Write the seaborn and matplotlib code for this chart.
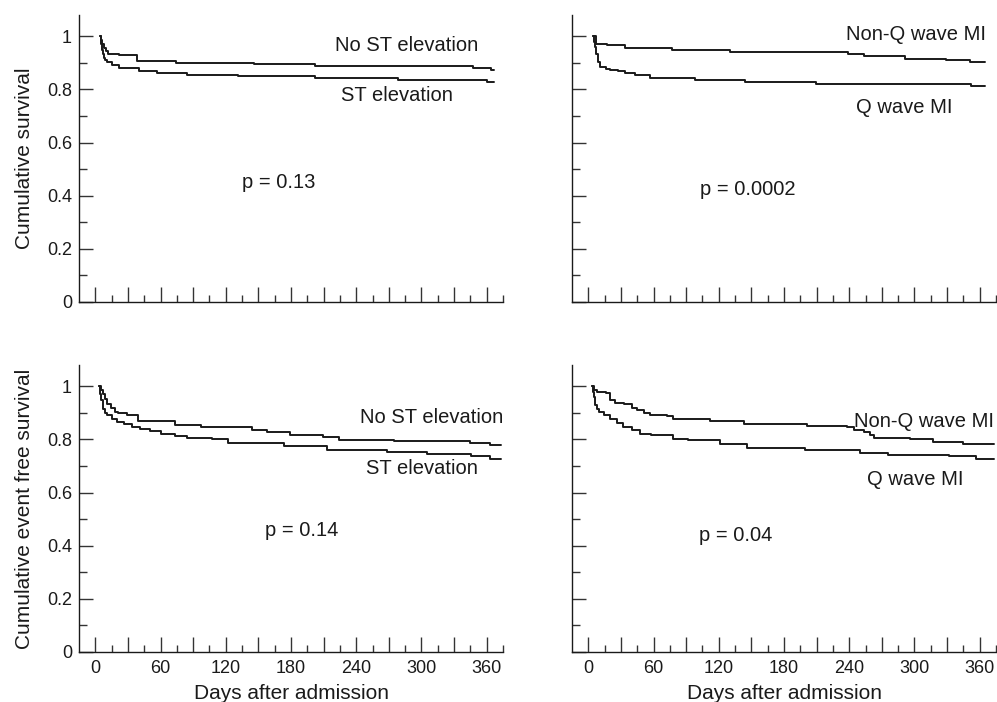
import matplotlib
matplotlib.use("Agg")
import matplotlib.pyplot as plt
import seaborn as sns

# survival step data (days after admission, cumulative survival)
tl_noST_days = [4, 5, 6, 8, 10, 12, 22, 38, 74, 146, 202, 347, 364, 367]
tl_noST_surv = [1.0, 0.985, 0.97, 0.955, 0.945, 0.935, 0.928, 0.907, 0.900, 0.897, 0.887, 0.880, 0.872, 0.872]
tl_ST_days = [4, 5, 6, 7, 8, 9, 11, 15, 22, 40, 57, 84, 131, 202, 278, 360, 367]
tl_ST_surv = [1.0, 0.97, 0.95, 0.935, 0.92, 0.91, 0.903, 0.89, 0.882, 0.870, 0.862, 0.856, 0.851, 0.842, 0.836, 0.828, 0.828]

tr_nonQ_days = [4, 7, 17, 34, 77, 130, 239, 254, 291, 329, 351, 365]
tr_nonQ_surv = [1.0, 0.972, 0.966, 0.956, 0.947, 0.941, 0.933, 0.925, 0.916, 0.910, 0.902, 0.902]
tr_Q_days = [4, 5, 6, 7, 9, 11, 16, 20, 27, 34, 43, 57, 98, 144, 209, 352, 365]
tr_Q_surv = [1.0, 0.98, 0.96, 0.935, 0.903, 0.885, 0.878, 0.872, 0.868, 0.862, 0.853, 0.843, 0.835, 0.828, 0.820, 0.812, 0.812]

bl_noST_days = [3, 5, 7, 9, 11, 14, 18, 21, 29, 39, 73, 97, 144, 158, 179, 209, 224, 275, 345, 363, 373]
bl_noST_surv = [1.0, 0.987, 0.972, 0.953, 0.935, 0.920, 0.903, 0.900, 0.891, 0.870, 0.853, 0.845, 0.836, 0.828, 0.818, 0.808, 0.799, 0.795, 0.786, 0.778, 0.778]
bl_ST_days = [3, 4, 5, 7, 9, 11, 15, 20, 26, 34, 41, 50, 60, 73, 84, 107, 122, 174, 213, 268, 305, 346, 363, 373]
bl_ST_surv = [1.0, 0.97, 0.947, 0.916, 0.90, 0.891, 0.875, 0.866, 0.857, 0.847, 0.839, 0.831, 0.822, 0.813, 0.807, 0.800, 0.787, 0.774, 0.762, 0.753, 0.744, 0.737, 0.728, 0.728]

br_nonQ_days = [3, 5.5, 8, 16, 20, 25, 33, 40, 45, 51, 57, 72, 78, 112, 143, 201, 238, 244, 254, 259, 263, 296, 317, 345, 373]
br_nonQ_surv = [1.0, 0.987, 0.979, 0.975, 0.947, 0.937, 0.932, 0.920, 0.912, 0.900, 0.891, 0.887, 0.878, 0.870, 0.857, 0.852, 0.847, 0.837, 0.828, 0.816, 0.807, 0.800, 0.791, 0.781, 0.781]
br_Q_days = [3, 4, 5, 6, 8, 10, 14, 20, 26, 32, 40, 48, 58, 78, 92, 121, 146, 199, 250, 276, 332, 357, 373]
br_Q_surv = [1.0, 0.98, 0.96, 0.93, 0.915, 0.905, 0.891, 0.875, 0.860, 0.847, 0.837, 0.822, 0.816, 0.803, 0.797, 0.781, 0.769, 0.759, 0.747, 0.741, 0.737, 0.728, 0.728]

y_ticks = [0, 0.2, 0.4, 0.6, 0.8, 1.0]
y_ticklabels = ["0", "0.2", "0.4", "0.6", "0.8", "1"]
x_labelled = [0, 60, 120, 180, 240, 300, 360]

sns.set_style("ticks")
plt.rcParams['font.family'] = ['Liberation Sans', 'DejaVu Sans']

ink = "#1a1a1a"
fig = plt.figure(figsize=(9.97, 7.02), dpi=100)

W = 424 / 997
H = 287 / 702
boxes = {
    "tl": [79 / 997, 1 - 302 / 702, W, H],
    "tr": [572 / 997, 1 - 302 / 702, W, H],
    "bl": [79 / 997, 1 - 652 / 702, W, H],
    "br": [572 / 997, 1 - 652 / 702, W, H],
}

panels = {
    "tl": [(tl_noST_days, tl_noST_surv), (tl_ST_days, tl_ST_surv)],
    "tr": [(tr_nonQ_days, tr_nonQ_surv), (tr_Q_days, tr_Q_surv)],
    "bl": [(bl_noST_days, bl_noST_surv), (bl_ST_days, bl_ST_surv)],
    "br": [(br_nonQ_days, br_nonQ_surv), (br_Q_days, br_Q_surv)],
}

# annotations: (text, day, survival)
notes = {
    "tl": [("No ST elevation", 286, 0.967), ("ST elevation", 277, 0.776), ("p = 0.13", 169, 0.449)],
    "tr": [("Non-Q wave MI", 301, 1.006), ("Q wave MI", 291, 0.732), ("p = 0.0002", 147, 0.424)],
    "bl": [("No ST elevation", 309, 0.882), ("ST elevation", 300, 0.690), ("p = 0.14", 190, 0.459)],
    "br": [("Non-Q wave MI", 309, 0.866), ("Q wave MI", 301, 0.648), ("p = 0.04", 136, 0.437)],
}

for key, box in boxes.items():
    ax = fig.add_axes(box)
    for days, surv in panels[key]:
        sns.lineplot(x=days, y=surv, ax=ax, color=ink, lw=1.4,
                     drawstyle="steps-post", estimator=None, sort=False)
    for txt, dx, dy in notes[key]:
        ax.text(dx, dy, txt, fontsize=14.5, ha="center", va="center", color=ink)

    ax.set_xlim(-15, 375)
    ax.set_ylim(0, 1.08)
    sns.despine(ax=ax)
    for sp in ["left", "bottom"]:
        ax.spines[sp].set_color(ink)
        ax.spines[sp].set_linewidth(1.0)

    ax.set_xticks(range(0, 361, 30))
    ax.set_xticks(range(15, 376, 30), minor=True)
    ax.set_yticks(y_ticks)
    ax.set_yticks([0.1, 0.3, 0.5, 0.7, 0.9], minor=True)
    ax.tick_params(axis="x", which="major", direction="in", length=10.5, width=1, color="#333333", pad=6)
    ax.tick_params(axis="x", which="minor", direction="in", length=5, width=1, color="#333333")
    ax.tick_params(axis="y", which="major", direction="in", length=10, width=1, color="#333333", pad=5)
    ax.tick_params(axis="y", which="minor", direction="in", length=6, width=1, color="#333333")
    ax.tick_params(labelsize=13, labelcolor=ink)

    if key[0] == "b":
        ax.set_xticklabels([str(v) if v in x_labelled else "" for v in range(0, 361, 30)])
        ax.set_xlabel("Days after admission", fontsize=15, color=ink, labelpad=5)
    else:
        ax.set_xticklabels([])
    if key[1] == "l":
        ax.set_yticklabels(y_ticklabels)
        label = "Cumulative survival" if key == "tl" else "Cumulative event free survival"
        ax.set_ylabel(label, fontsize=15, color=ink, labelpad=9)
    else:
        ax.set_yticklabels([])

fig.savefig("out.png", dpi=100)
